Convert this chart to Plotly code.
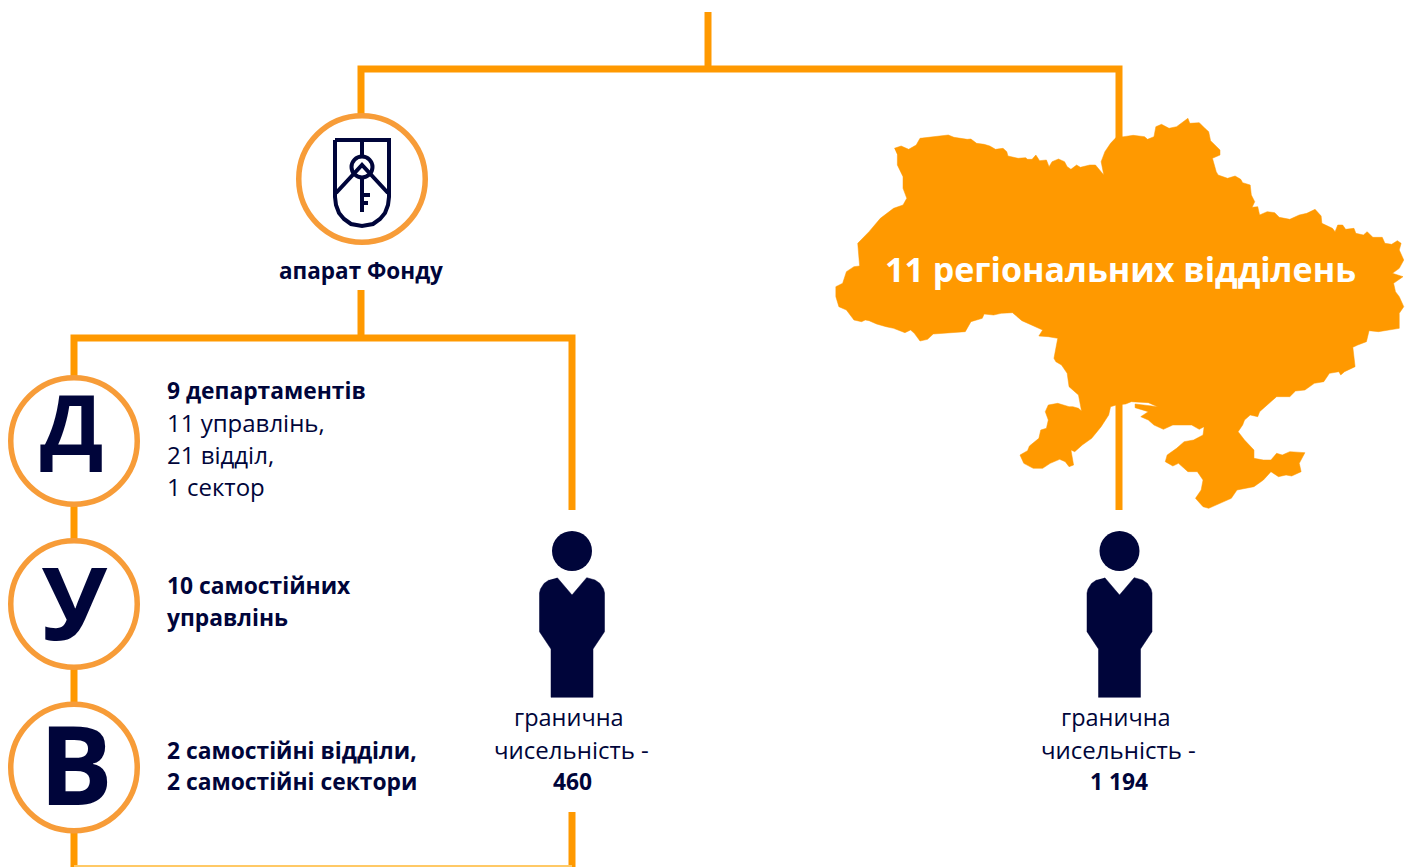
import plotly.graph_objects as go

NAVY = "#00053a"
ORANGE = "#ff9900"
RING = "#f79c38"
FONT = "Open Sans"

# connector runs, in the picture's own units
run_x = [[708, 708], [361, 361, 1119, 1119], [361, 361], [74, 74, 572, 572], [572, 572]]
run_y = [[12, 69], [115, 69, 69, 140], [290, 338], [867, 338, 338, 510], [812, 867]]
foot_x = [74, 572]
foot_y = [866, 866]
branch_x = [1119, 1119]
branch_y = [400, 510]

# rings
ring_x = [362, 74, 74, 74]
ring_y = [179, 441, 604, 767.5]

# large letters: glyph, x, y, size
letters = [("Д", 71.5, 422, 83), ("У", 74, 601, 100), ("В", 76, 762, 110)]

# map outline
map_trace = [(197,115),(215,108),(235,118),(255,105),(265,85),(290,82),(320,78),(340,75),(355,82),(375,85),(390,88),(400,87),(415,100),(435,103),(450,108),(465,118),(485,115),(495,125),(498,138),(525,145),(545,143),(550,148),(562,148),(572,135),(582,152),(600,150),(607,170),(615,155),(632,147),(648,155),(655,170),(665,178),(680,165),(690,172),(715,165),(730,165),(745,185),(752,195),(745,155),(755,125),(770,100),(785,82),(805,80),(830,76),(860,80),(868,88),(885,80),(890,50),(905,43),(925,55),(945,50),(965,35),(975,25),(980,40),(1005,38),(1020,55),(1030,65),(1035,92),(1060,120),(1060,135),(1040,145),(1050,185),(1055,195),(1080,205),(1100,198),(1115,208),(1120,218),(1140,225),(1143,255),(1152,275),(1145,292),(1160,290),(1165,315),(1185,305),(1205,308),(1217,322),(1245,328),(1270,315),(1290,310),(1312,298),(1328,318),(1330,340),(1358,355),(1365,365),(1372,345),(1385,345),(1393,358),(1415,355),(1420,370),(1440,375),(1450,365),(1465,382),(1490,382),(1497,400),(1515,403),(1530,392),(1540,400),(1535,420),(1547,450),(1535,475),(1517,490),(1545,500),(1520,520),(1525,545),(1535,560),(1547,590),(1535,610),(1535,655),(1500,662),(1480,665),(1455,662),(1448,695),(1425,705),(1412,712),(1418,770),(1390,785),(1380,795),(1375,785),(1350,790),(1335,815),(1310,820),(1285,840),(1260,843),(1245,860),(1210,860),(1190,880),(1165,905),(1160,920),(1140,915),(1125,930),(1120,945),(1108,965),(1125,990),(1150,1020),(1150,1045),(1175,1050),(1195,1050),(1210,1030),(1225,1035),(1245,1025),(1285,1028),(1270,1060),(1275,1085),(1250,1098),(1235,1095),(1215,1100),(1195,1085),(1175,1110),(1150,1130),(1105,1140),(1090,1165),(1030,1195),(1015,1190),(995,1165),(1010,1140),(1015,1110),(1000,1085),(975,1085),(950,1060),(935,1068),(915,1055),(920,1035),(945,1015),(965,995),(990,990),(1015,975),(1018,950),(1005,958),(985,945),(960,945),(935,945),(910,958),(885,945),(870,930),(850,920),(870,905),(835,893),(835,882),(895,890),(870,878),(825,875),(810,882),(785,885),(770,890),(765,915),(745,950),(720,985),(695,1005),(675,1025),(665,1020),(672,1065),(660,1070),(650,1055),(635,1048),(610,1060),(590,1075),(565,1075),(540,1060),(530,1035),(550,1022),(555,1008),(580,985),(585,960),(600,955),(605,930),(597,905),(605,885),(630,880),(660,890),(670,890),(685,895),(693,903),(685,855),(660,830),(655,790),(640,765),(625,755),(620,745),(630,685),(605,680),(580,678),(590,660),(535,632),(510,608),(480,610),(460,615),(435,612),(430,625),(400,635),(385,665),(350,668),(300,672),(285,688),(265,693),(250,670),(240,660),(225,668),(195,655),(175,650),(150,642),(130,632),(120,630),(110,635),(90,630),(70,600),(50,590),(42,560),(42,530),(60,520),(70,485),(90,470),(105,468),(100,400),(130,365),(160,325),(195,295),(220,285),(230,265),(220,235),(220,200),(205,165),(205,135)]
map_x = [820 + p[0] / 2.65 for p in map_trace]
map_y = [110 + p[1] / 3 for p in map_trace]

# figure icon
person_center = [572, 1119.5]
head_y = 551
body_dx = [-14.7, 0, 14.7, 23, 28, 31.5, 32.5, 32.5, 21, 21, -21, -21, -32.5, -32.5, -31.5, -28, -23]
body_y = [577.7, 595, 577.7, 580, 583.5, 589, 593, 631.7, 649, 697.3, 697.3, 649, 631.7, 593, 589, 583.5, 580]

# emblem
shield_x = [335, 389, 389, 388, 385, 380, 373, 362, 351, 344, 339, 336, 335, 335]
shield_y = [140, 140, 197, 205, 213, 219, 224, 226, 224, 219, 213, 205, 197, 140]
emblem_x = [[362, 362], [336, 362, 388], [362, 362], [362, 370], [362, 368]]
emblem_y = [[140, 155], [193, 165, 193], [177, 212], [195, 195], [203, 203]]
emblem_ring = (362, 167)

# texts: content, x, y, size, bold, colour, anchor
captions = [
    ("апарат Фонду", 361, 270, 22.5, True, NAVY, "center"),
    ("11 регіональних відділень", 1120, 269, 34, True, "white", "center"),
    ("9 департаментів", 165, 390, 22.8, True, NAVY, "left"),
    ("11 управлінь,", 165, 422, 24, False, NAVY, "left"),
    ("21 відділ,", 165, 454, 24, False, NAVY, "left"),
    ("1 сектор", 165, 486, 24, False, NAVY, "left"),
    ("10 самостійних", 165, 585, 22.8, True, NAVY, "left"),
    ("управлінь", 165, 617, 22.8, True, NAVY, "left"),
    ("2 самостійні відділи,", 165, 750, 22.8, True, NAVY, "left"),
    ("2 самостійні сектори", 165, 781, 22.8, True, NAVY, "left"),
    ("гранична", 568.5, 717, 23.5, False, NAVY, "center"),
    ("чисельність -", 571.5, 749, 24, False, NAVY, "center"),
    ("460", 572, 781, 22.8, True, NAVY, "center"),
    ("гранична", 1115.5, 717, 23.5, False, NAVY, "center"),
    ("чисельність -", 1118.5, 749, 24, False, NAVY, "center"),
    ("1 194", 1119, 781, 22.8, True, NAVY, "center"),
]

fig = go.Figure()
for xs, ys in zip(run_x, run_y):
    fig.add_trace(go.Scatter(x=xs, y=ys, mode="lines", line=dict(color=ORANGE, width=7)))
fig.add_trace(go.Scatter(x=foot_x, y=foot_y, mode="lines", line=dict(color="#ffc966", width=2)))
fig.add_trace(go.Scatter(x=map_x, y=map_y, mode="lines", fill="toself", fillcolor=ORANGE,
                         line=dict(color=ORANGE, width=0.5)))
fig.add_trace(go.Scatter(x=branch_x, y=branch_y, mode="lines", line=dict(color=ORANGE, width=7)))
fig.add_trace(go.Scatter(x=ring_x, y=ring_y, mode="markers",
                         marker=dict(size=126.5, color="white", line=dict(color=RING, width=5.5))))
fig.add_trace(go.Scatter(x=shield_x, y=shield_y, mode="lines", line=dict(color=NAVY, width=4)))
fig.add_trace(go.Scatter(x=[emblem_ring[0]], y=[emblem_ring[1]], mode="markers",
                         marker=dict(size=21, color="white", line=dict(color=NAVY, width=4))))
for xs, ys in zip(emblem_x, emblem_y):
    fig.add_trace(go.Scatter(x=xs, y=ys, mode="lines", line=dict(color=NAVY, width=4)))
for cx in person_center:
    fig.add_trace(go.Scatter(x=[cx], y=[head_y], mode="markers", marker=dict(size=40, color=NAVY)))
    fig.add_trace(go.Scatter(x=[cx + d for d in body_dx], y=body_y, mode="lines", fill="toself",
                             fillcolor=NAVY, line=dict(color=NAVY, width=0.5)))

for glyph, x, y, size in letters:
    fig.add_annotation(x=x, y=y, text=glyph, showarrow=False, xanchor="center", yanchor="middle",
                       font=dict(family=FONT, size=size, color=NAVY, weight=700))
for text, x, y, size, bold, colour, anchor in captions:
    fig.add_annotation(x=x, y=y, text=text, showarrow=False, xanchor=anchor, yanchor="middle",
                       font=dict(family=FONT, size=size, color=colour, weight=700 if bold else 400))

fig.update_layout(
    width=1411, height=867, margin=dict(l=0, r=0, t=0, b=0), showlegend=False,
    paper_bgcolor="white", plot_bgcolor="white",
    xaxis=dict(range=[0, 1411], visible=False, fixedrange=True),
    yaxis=dict(range=[867, 0], visible=False, fixedrange=True),
)
fig.write_html("out.html", config={"displayModeBar": False},
               post_script="document.body.style.margin='0';document.body.style.overflow='hidden';")
